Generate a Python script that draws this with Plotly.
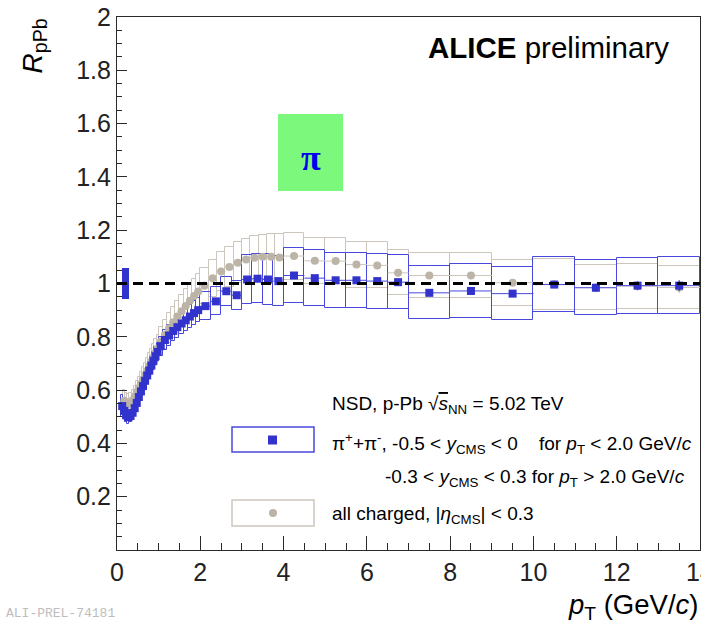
import plotly.graph_objects as go

# ---------------- data ----------------
# pi+ + pi-  (pT bin centres, bin widths, RpPb, systematic half-height, stat error)
pi_pt = [0.125, 0.175, 0.225, 0.275, 0.325, 0.375, 0.425, 0.475, 0.525, 0.575,
         0.625, 0.675, 0.725, 0.775, 0.825, 0.875, 0.925, 0.975,
         1.05, 1.15, 1.25, 1.35, 1.45, 1.55, 1.65, 1.75, 1.85, 1.95,
         2.125, 2.375, 2.625, 2.875, 3.125, 3.375, 3.625, 3.875,
         4.25, 4.75, 5.25, 5.75, 6.25, 6.75,
         7.5, 8.5, 9.5, 10.5, 11.5, 12.5, 13.5]
pi_bw = [0.05, 0.05, 0.05, 0.05, 0.05, 0.05, 0.05, 0.05, 0.05, 0.05,
         0.05, 0.05, 0.05, 0.05, 0.05, 0.05, 0.05, 0.05,
         0.1, 0.1, 0.1, 0.1, 0.1, 0.1, 0.1, 0.1, 0.1, 0.1,
         0.25, 0.25, 0.25, 0.25, 0.25, 0.25, 0.25, 0.25,
         0.5, 0.5, 0.5, 0.5, 0.5, 0.5,
         1.0, 1.0, 1.0, 1.0, 1.0, 1.0, 1.0]
pi_R = [0.540, 0.522, 0.505, 0.498, 0.503, 0.515, 0.532, 0.552, 0.574, 0.595,
        0.615, 0.635, 0.655, 0.673, 0.692, 0.710, 0.727, 0.743,
        0.765, 0.788, 0.805, 0.822, 0.836, 0.850, 0.862, 0.876, 0.889, 0.900,
        0.915, 0.933, 0.971, 0.956, 1.015, 1.018, 1.015, 1.009,
        1.030, 1.020, 1.012, 1.012, 1.009, 1.005,
        0.965, 0.972, 0.962, 0.996, 0.984, 0.992, 0.992]
pi_sys = [0.040, 0.030, 0.025, 0.024, 0.024, 0.025, 0.025, 0.026, 0.027, 0.028,
          0.029, 0.030, 0.031, 0.032, 0.033, 0.033, 0.034, 0.035,
          0.036, 0.037, 0.038, 0.039, 0.040, 0.041, 0.042, 0.043, 0.044, 0.045,
          0.052, 0.053, 0.055, 0.054, 0.092, 0.093, 0.094, 0.094,
          0.104, 0.104, 0.103, 0.103, 0.103, 0.102,
          0.100, 0.100, 0.100, 0.104, 0.104, 0.105, 0.106]
pi_stat = [0.004, 0.002, 0.002, 0.002, 0.002, 0.002, 0.002, 0.002, 0.002, 0.002,
           0.002, 0.002, 0.002, 0.002, 0.002, 0.002, 0.002, 0.002,
           0.002, 0.002, 0.002, 0.002, 0.002, 0.002, 0.002, 0.002, 0.002, 0.002,
           0.003, 0.003, 0.003, 0.003, 0.003, 0.003, 0.003, 0.003,
           0.003, 0.003, 0.004, 0.004, 0.005, 0.005,
           0.006, 0.008, 0.010, 0.012, 0.014, 0.016, 0.020]

# all charged
ch_pt = [0.175, 0.225, 0.275, 0.325, 0.375, 0.425, 0.475, 0.525, 0.575,
         0.625, 0.675, 0.725, 0.775, 0.825, 0.875, 0.925, 0.975,
         1.05, 1.15, 1.25, 1.35, 1.45, 1.55, 1.65, 1.75, 1.85, 1.95,
         2.1, 2.3, 2.5, 2.7, 2.9, 3.1, 3.3, 3.5, 3.7, 3.9,
         4.25, 4.75, 5.25, 5.75, 6.25, 6.75,
         7.5, 8.5, 9.5, 10.5, 11.5, 12.5, 13.5]
ch_bw = [0.05, 0.05, 0.05, 0.05, 0.05, 0.05, 0.05, 0.05, 0.05,
         0.05, 0.05, 0.05, 0.05, 0.05, 0.05, 0.05, 0.05,
         0.1, 0.1, 0.1, 0.1, 0.1, 0.1, 0.1, 0.1, 0.1, 0.1,
         0.2, 0.2, 0.2, 0.2, 0.2, 0.2, 0.2, 0.2, 0.2, 0.2,
         0.5, 0.5, 0.5, 0.5, 0.5, 0.5,
         1.0, 1.0, 1.0, 1.0, 1.0, 1.0, 1.0]
ch_R = [0.560, 0.550, 0.548, 0.552, 0.562, 0.576, 0.592, 0.608, 0.624,
        0.640, 0.657, 0.673, 0.690, 0.707, 0.723, 0.740, 0.756,
        0.782, 0.808, 0.832, 0.855, 0.876, 0.896, 0.916, 0.935, 0.953, 0.970,
        0.992, 1.020, 1.045, 1.062, 1.078, 1.090, 1.097, 1.100, 1.100, 1.098,
        1.103, 1.085, 1.084, 1.071, 1.068, 1.040,
        1.030, 1.030, 1.003, 0.997, 0.985, 0.990, 0.985]
ch_sys = [0.040, 0.039, 0.039, 0.039, 0.040, 0.041, 0.042, 0.043, 0.044,
          0.045, 0.046, 0.047, 0.048, 0.049, 0.050, 0.051, 0.052,
          0.053, 0.055, 0.057, 0.058, 0.060, 0.061, 0.063, 0.064, 0.065, 0.066,
          0.068, 0.070, 0.072, 0.074, 0.076, 0.078, 0.080, 0.082, 0.084, 0.086,
          0.088, 0.087, 0.087, 0.086, 0.086, 0.085,
          0.085, 0.085, 0.086, 0.095, 0.085, 0.085, 0.082]
ch_stat = [0.002, 0.002, 0.002, 0.002, 0.002, 0.002, 0.002, 0.002, 0.002,
           0.002, 0.002, 0.002, 0.002, 0.002, 0.002, 0.002, 0.002,
           0.002, 0.002, 0.002, 0.002, 0.002, 0.002, 0.002, 0.002, 0.002, 0.002,
           0.002, 0.002, 0.002, 0.002, 0.002, 0.002, 0.002, 0.002, 0.002, 0.002,
           0.003, 0.003, 0.004, 0.004, 0.005, 0.005,
           0.006, 0.008, 0.010, 0.012, 0.014, 0.016, 0.020]

# normalisation uncertainty box
norm_pt = [0.21]
norm_w = [0.18]
norm_unc = 0.058

x_tick_vals = [0, 2, 4, 6, 8, 10, 12, 14]
x_tick_text = ["0", "2", "4", "6", "8", "10", "12", "14"]
y_tick_vals = [0.2, 0.4, 0.6, 0.8, 1.0, 1.2, 1.4, 1.6, 1.8, 2.0]
y_tick_text = ["0.2", "0.4", "0.6", "0.8", "1", "1.2", "1.4", "1.6", "1.8", "2"]

# ---------------- style ----------------
W, H = 701, 623
ML, MR, MT, MB = 117, 1, 17, 73
PW = W - ML - MR
PH = H - MT - MB
FONT = "Liberation Sans, Arial, sans-serif"
PI_MK = "#3232cc"
PI_BOX = "#4848dc"
CH_MK = "#bdb4a8"
CH_BOX = "#cdc6bd"
AX = "#2a2a2a"


def pxx(p):
    return (p - ML) / PW


def pyy(p):
    return (H - MB - p) / PH


fig = go.Figure()

# systematic boxes: charged
fig.add_trace(go.Bar(
    x=ch_pt, y=[2 * s for s in ch_sys], base=[r - s for r, s in zip(ch_R, ch_sys)],
    width=ch_bw, marker=dict(color="rgba(0,0,0,0)", line=dict(color=CH_BOX, width=1)),
    showlegend=False, hoverinfo="skip"))
# systematic boxes: pions
fig.add_trace(go.Bar(
    x=pi_pt, y=[2 * s for s in pi_sys], base=[r - s for r, s in zip(pi_R, pi_sys)],
    width=pi_bw, marker=dict(color="rgba(0,0,0,0)", line=dict(color=PI_BOX, width=1)),
    showlegend=False, hoverinfo="skip"))
# normalisation box
fig.add_trace(go.Bar(
    x=norm_pt, y=[2 * norm_unc], base=[1 - norm_unc], width=norm_w,
    marker=dict(color=PI_MK, line=dict(width=0)), showlegend=False, hoverinfo="skip"))

# charged markers
fig.add_trace(go.Scatter(
    x=ch_pt, y=ch_R, mode="markers",
    marker=dict(symbol="circle", size=8, color=CH_MK),
    error_y=dict(type="data", array=ch_stat, color=CH_MK, thickness=1.2, width=0),
    error_x=dict(type="data", array=[b / 2 for b in ch_bw], color=CH_BOX, thickness=1, width=0),
    showlegend=False, hoverinfo="skip"))
# pion markers
fig.add_trace(go.Scatter(
    x=pi_pt, y=pi_R, mode="markers",
    marker=dict(symbol="square", size=8, color=PI_MK),
    error_y=dict(type="data", array=pi_stat, color=PI_MK, thickness=1.2, width=0),
    error_x=dict(type="data", array=[b / 2 for b in pi_bw], color=PI_BOX, thickness=1, width=0),
    showlegend=False, hoverinfo="skip"))

shapes = [
    # unity line
    dict(type="line", xref="paper", yref="y", x0=0, x1=1, y0=1, y1=1,
         line=dict(color="black", width=3, dash="10px,6px"), layer="above"),
    # pi label box
    dict(type="rect", xref="paper", yref="paper", x0=pxx(278), x1=pxx(343),
         y0=pyy(191), y1=pyy(114), fillcolor="#7cf97c", line=dict(width=0)),
    # legend boxes
    dict(type="rect", xref="paper", yref="paper", x0=pxx(232), x1=pxx(314),
         y0=pyy(452), y1=pyy(427), line=dict(color=PI_BOX, width=1.5),
         fillcolor="white"),
    dict(type="rect", xref="paper", yref="paper", x0=pxx(232), x1=pxx(314),
         y0=pyy(526), y1=pyy(500), line=dict(color=CH_BOX, width=1.5),
         fillcolor="white"),
    dict(type="rect", xref="paper", yref="paper", x0=pxx(268), x1=pxx(277),
         y0=pyy(444.5), y1=pyy(435.5), line=dict(width=0), fillcolor=PI_MK),
    dict(type="circle", xref="paper", yref="paper", x0=pxx(269), x1=pxx(277),
         y0=pyy(517), y1=pyy(509), line=dict(width=0), fillcolor=CH_MK),
]

ann = []


def add_text(text, x, y, size=19, xanchor="left", yanchor="middle", color="black",
             family=FONT, **kw):
    d = dict(text=text, xref="paper", yref="paper", x=pxx(x), y=pyy(y),
             xanchor=xanchor, yanchor=yanchor, showarrow=False,
             font=dict(family=family, size=size, color=color))
    d.update(kw)
    ann.append(d)


add_text("<b>ALICE</b> preliminary", 671, 48, size=29.5, xanchor="right")
add_text("<b>π</b>", 311, 158, size=36, xanchor="center", color="#0000ee",
         family="Liberation Serif, serif")
add_text("NSD, p-Pb √<span style='text-decoration:overline'><i>s</i></span><sub>NN</sub> = 5.02 TeV",
         330, 405)
add_text("π<sup>+</sup>+π<sup>-</sup>, -0.5 &lt; <i>y</i><sub>CMS</sub> &lt; 0\u00a0\u00a0\u00a0 for <i>p</i><sub>T</sub> &lt; 2.0 GeV/<i>c</i>",
         330, 443)
add_text("-0.3 &lt; <i>y</i><sub>CMS</sub> &lt; 0.3 for <i>p</i><sub>T</sub> &gt; 2.0 GeV/<i>c</i>",
         383, 478)
add_text("all charged, |<i>η</i><sub>CMS</sub>| &lt; 0.3", 330, 515)
add_text("<i>p</i><sub>T</sub> (GeV/<i>c</i>)", 700, 606, size=27.5, xanchor="right")
add_text("<i>R</i><sub>pPb</sub>", 34, 17, size=28, xanchor="center", yanchor="top",
         textangle=-90)
add_text("ALI-PREL-74181", 4, 613, size=13, color="#bdbdbd",
         family="Liberation Mono, monospace")

fig.update_layout(
    width=W, height=H,
    margin=dict(l=ML, r=MR, t=MT, b=MB, pad=0, autoexpand=False),
    paper_bgcolor="white", plot_bgcolor="white",
    barmode="overlay", bargap=0,
    shapes=shapes, annotations=ann,
    font=dict(family=FONT, color="black"),
    xaxis=dict(range=[0, 14], showgrid=False, zeroline=False, automargin=False,
               showline=True, linecolor=AX, linewidth=1.2, mirror=True,
               tickmode="array", tickvals=x_tick_vals, ticktext=x_tick_text,
               ticks="inside", ticklen=14, tickwidth=1, tickcolor=AX,
               tickfont=dict(size=25, color="#222"), ticklabeloverflow="allow",
               minor=dict(tickmode="linear", tick0=0, dtick=0.5, ticks="inside",
                          ticklen=7, tickcolor=AX, showgrid=False)),
    yaxis=dict(range=[0, 2], showgrid=False, zeroline=False, automargin=False,
               showline=True, linecolor=AX, linewidth=1.2, mirror=True,
               tickmode="array", tickvals=y_tick_vals, ticktext=y_tick_text,
               ticks="inside", ticklen=10, tickwidth=1, tickcolor=AX,
               tickfont=dict(size=25, color="#222"), ticklabeloverflow="allow",
               minor=dict(tickmode="linear", tick0=0, dtick=0.05, ticks="inside",
                          ticklen=5, tickcolor=AX, showgrid=False)),
)

fig.write_html("out.html")
